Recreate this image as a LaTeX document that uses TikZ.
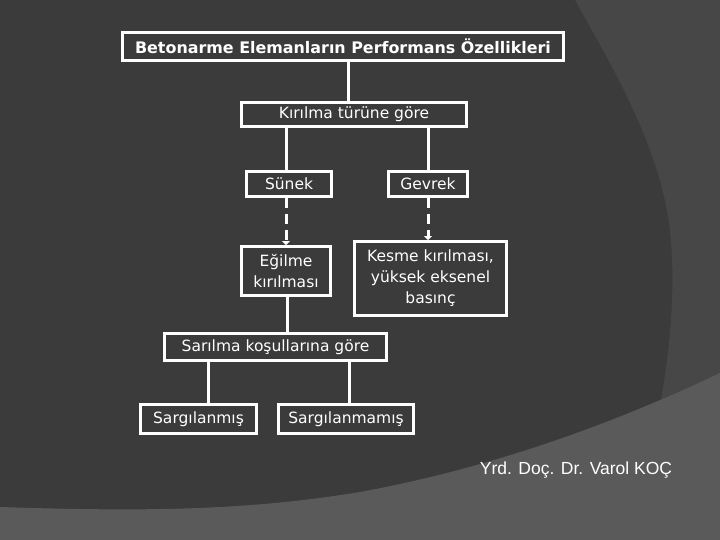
\documentclass[tikz,border=0pt]{standalone}
\usepackage{fontspec}
\setmainfont{DejaVu Sans}
\newfontfamily\footfont{Liberation Sans}
\usetikzlibrary{arrows.meta}
\definecolor{bgdark}{HTML}{3B3B3B}
\definecolor{bgmid}{HTML}{474747}
\definecolor{bglight}{HTML}{5A5A5A}
\tikzset{
  box/.style={draw=white, line width=3pt, text=white, inner sep=0pt, align=center,
    font=\fontsize{15.5}{21}\selectfont},
  conn/.style={draw=white, line width=3pt},
  dconn/.style={draw=white, line width=3pt, dash pattern=on 10pt off 6pt,
    -{Triangle[width=8pt,length=4pt]}}
}
\begin{document}
\begin{tikzpicture}[x=1pt,y=-1pt]
\useasboundingbox (0,0) rectangle (720,540);
\fill[bgdark] (0,0) rectangle (720,540);
\fill[bgmid] (575,0) .. controls (620,80) and (660,150) .. (670,230)
  .. controls (676,290) and (670,350) .. (660,405) -- (720,405) -- (720,0) -- cycle;
\fill[bglight] (0,507) .. controls (150,512) and (250,510) .. (360,492)
  .. controls (480,470) and (600,430) .. (720,373) -- (720,540) -- (0,540) -- cycle;

\node[box, minimum width=441pt, minimum height=28pt,
  font=\fontsize{15.9}{19}\selectfont\bfseries] (title) at (343,46.5)
  {Betonarme Elemanların Performans Özellikleri};
\node[box, minimum width=225pt, minimum height=24pt] (kir) at (354,114.7) {Kırılma türüne göre};
\node[box, minimum width=85pt, minimum height=25pt] (sun) at (289,184) {Sünek};
\node[box, minimum width=79pt, minimum height=25pt] (gev) at (428,184) {Gevrek};
\node[box, minimum width=89pt, minimum height=49pt] (eg) at (286,271) {Eğilme\\kırılması};
\node[box, minimum width=152pt, minimum height=74pt] (kes) at (430.5,278.5) {Kesme kırılması,\\yüksek eksenel\\basınç};
\node[box, minimum width=222pt, minimum height=27pt] (sar) at (275.5,347) {Sarılma koşullarına göre};
\node[box, minimum width=116pt, minimum height=29pt] (s1) at (198.5,419) {Sargılanmış};
\node[box, minimum width=135pt, minimum height=29pt] (s2) at (346,419) {Sargılanmamış};
\node[text=white, inner sep=0pt, font=\footfont\fontsize{17.5}{20}\selectfont] (foot) at (576,470) {Yrd. Doç. Dr. Varol KOÇ};

\draw[conn] ([xshift=5pt]title.south) -- ([xshift=5pt]title.south |- kir.north);
\draw[conn] ([xshift=-3pt]sun.north |- kir.south) -- ([xshift=-3pt]sun.north);
\draw[conn] (gev.north |- kir.south) -- (gev.north);
\draw[dconn] (eg.north |- sun.south) -- (eg.north);
\draw[dconn] (gev.south) -- (gev.south |- kes.north);
\draw[conn] ([xshift=1pt]eg.south) -- ([xshift=1pt]eg.south |- sar.north);
\draw[conn] ([xshift=9.5pt]s1.north |- sar.south) -- ([xshift=9.5pt]s1.north);
\draw[conn] ([xshift=3pt]s2.north |- sar.south) -- ([xshift=3pt]s2.north);
\end{tikzpicture}
\end{document}
